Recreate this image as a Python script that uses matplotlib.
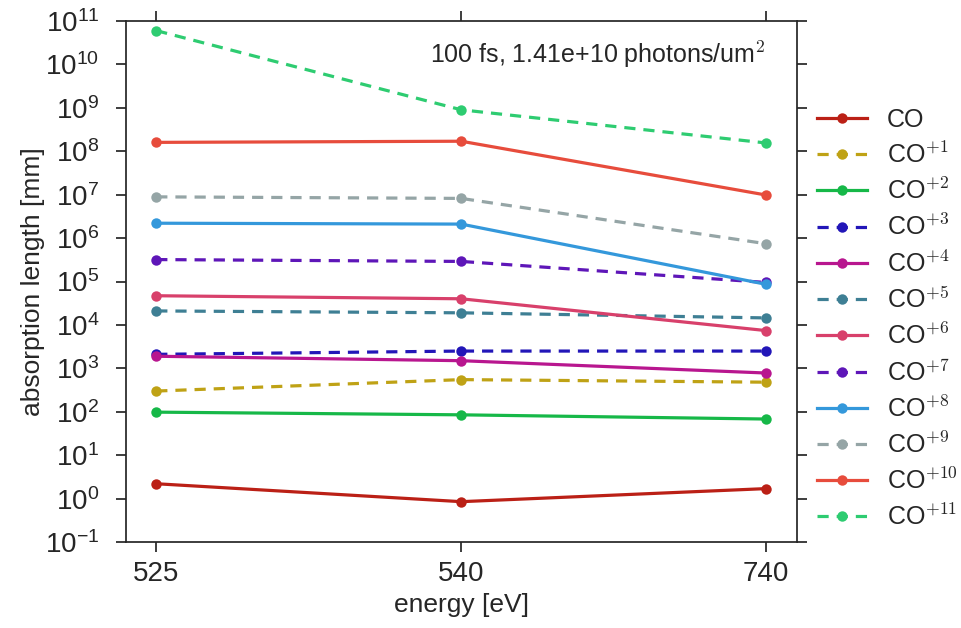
import numpy as np
from matplotlib import pyplot as plt

plt.rcParams['font.family'] = ['Liberation Sans', 'DejaVu Sans']
plt.rcParams['mathtext.fontset'] = 'cm'
plt.rcParams['axes.unicode_minus'] = False
plt.rcParams['text.color'] = '#262626'
plt.rcParams['axes.labelcolor'] = '#262626'
plt.rcParams['xtick.color'] = '#262626'
plt.rcParams['ytick.color'] = '#262626'

energies = ['525', '540', '740']

co_0 = [2.2, 0.85, 1.7]
co_1 = [300, 550, 480]
co_2 = [98, 85, 68]
co_3 = [2100, 2500, 2500]
co_4 = [1900, 1500, 780]
co_5 = [2.1e4, 1.9e4, 1.45e4]
co_6 = [4.7e4, 4.0e4, 7.4e3]
co_7 = [3.2e5, 2.9e5, 9.5e4]
co_8 = [2.2e6, 2.1e6, 8.6e4]
co_9 = [8.9e6, 8.2e6, 7.4e5]
co_10 = [1.6e8, 1.7e8, 9.8e6]
co_11 = [6.0e10, 9.0e8, 1.55e8]

series = [co_0, co_1, co_2, co_3, co_4, co_5, co_6, co_7, co_8, co_9, co_10, co_11]
labels = ['CO'] + ['CO$^{+%d}$' % i for i in range(1, 12)]
colors = ['#bb2016', '#bfa215', '#16b848', '#2216b8', '#b8168f', '#3e7f94',
          '#d8406b', '#5e16b8', '#3498db', '#95a5a6', '#e74c3c', '#2ecc71']

fig = plt.figure(figsize=(9.62, 6.28), dpi=100)
ax = fig.add_axes([0.1307, 0.1369, 0.6975, 0.8297])

x = np.arange(len(energies))
for i, vals in enumerate(series):
    ls = '-' if i % 2 == 0 else (0, (3.5, 2.5))
    ax.plot(x, vals, linestyle=ls, color=colors[i], lw=2.3, marker='o',
            markersize=7.5, markeredgewidth=0, label=labels[i])

ax.set_yscale('log')
ax.set_ylim(1e-1, 1e11)
ax.set_yticks([10.0 ** k for k in range(-1, 12)])
ax.yaxis.set_minor_locator(plt.NullLocator())
ax.set_xlim(-0.1, 2.1)
ax.set_xticks(x)
ax.set_xticklabels(energies)

for s in ax.spines.values():
    s.set_color('#262626')
    s.set_linewidth(1.25)
ax.tick_params(which='major', direction='out', length=7, width=1.25,
               labelsize=20, top=True, right=True, pad=7)
ax.tick_params(axis='y', pad=12)

ax.set_xlabel('energy [eV]', fontsize=19, labelpad=4)
ax.set_ylabel('absorption length [mm]', fontsize=19, labelpad=0)

ax.text(0.953, 0.935, '100 fs, 1.41e+10 photons/um$^2$', transform=ax.transAxes,
        ha='right', va='center', fontsize=18)

ax.legend(loc='center left', bbox_to_anchor=(1.0, 0.428), frameon=False,
          fontsize=18, numpoints=1, handlelength=2.0, labelspacing=0.42,
          borderaxespad=0.4, handletextpad=0.8)

fig.savefig('out.png', dpi=100)
